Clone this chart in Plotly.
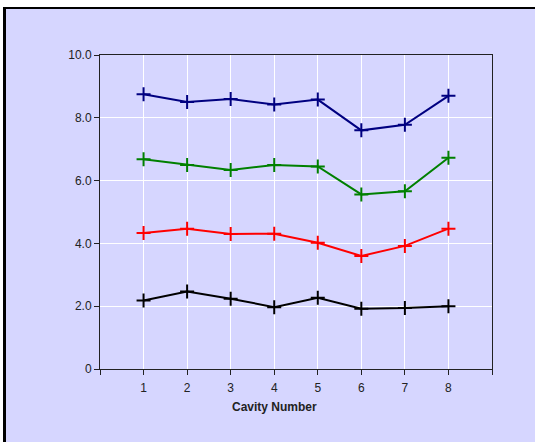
import plotly.graph_objects as go

cavity = [1, 2, 3, 4, 5, 6, 7, 8]
series_blue = [8.75, 8.5, 8.6, 8.42, 8.58, 7.6, 7.78, 8.7]
series_green = [6.68, 6.5, 6.34, 6.5, 6.45, 5.56, 5.66, 6.73]
series_red = [4.33, 4.47, 4.3, 4.31, 4.02, 3.6, 3.92, 4.47]
series_black = [2.18, 2.47, 2.24, 1.97, 2.27, 1.92, 1.94, 2.0]
colors = ["#000080", "#008000", "#ff0000", "#000000"]
y_tickvals = [0, 2, 4, 6, 8, 10]
y_ticktext = ["0", "2.0", "4.0", "6.0", "8.0", "10.0"]
x_tickvals = [0, 1, 2, 3, 4, 5, 6, 7, 8, 9]
x_ticktext = ["", "1", "2", "3", "4", "5", "6", "7", "8", ""]

fig = go.Figure()
for ys, c in zip([series_blue, series_green, series_red, series_black], colors):
    fig.add_trace(go.Scatter(
        x=cavity, y=ys, mode="lines+markers",
        line=dict(color=c, width=2),
        marker=dict(symbol="cross-thin", size=10, line=dict(color=c, width=2), color=c),
        showlegend=False, cliponaxis=False, hoverinfo="skip",
    ))

W, H = 535, 442
L, R, T, B = 100, 43, 55, 73
pw, ph = W - L - R, H - T - B

def px(x):
    return (x - L) / pw

def py(y):
    return (H - B - y) / ph

bg = "#d6d6ff"
# white strips outside the framed panel (top and left)
fig.add_shape(type="rect", xref="paper", yref="paper",
              x0=px(0), x1=px(W), y0=py(0), y1=py(7),
              fillcolor="white", line=dict(width=0), layer="below")
fig.add_shape(type="rect", xref="paper", yref="paper",
              x0=px(0), x1=px(3), y0=py(0), y1=py(H),
              fillcolor="white", line=dict(width=0), layer="below")
fig.add_shape(type="line", xref="paper", yref="paper",
              x0=px(4.5), x1=px(4.5), y0=py(7), y1=py(H),
              line=dict(color="black", width=3), layer="below")
fig.add_shape(type="line", xref="paper", yref="paper",
              x0=px(3), x1=px(W), y0=py(8), y1=py(8),
              line=dict(color="black", width=2), layer="below")

axis_font = dict(family="Liberation Sans, Arial", size=12, color="#222")
fig.update_xaxes(range=[0, 9], tickvals=x_tickvals, ticktext=x_ticktext,
                 showgrid=True, gridcolor="white", gridwidth=1,
                 showline=True, linecolor="#222", linewidth=1, mirror=True,
                 ticks="outside", ticklen=5, tickcolor="#222",
                 tickfont=axis_font, zeroline=False, ticklabelstandoff=3)
fig.update_yaxes(range=[0, 10], tickvals=y_tickvals, ticktext=y_ticktext,
                 showgrid=True, gridcolor="white", gridwidth=1,
                 showline=True, linecolor="#222", linewidth=1, mirror=True,
                 ticks="outside", ticklen=5, tickcolor="#222",
                 tickfont=axis_font, zeroline=False)

fig.add_annotation(text="<b>Cavity Number</b>", xref="paper", yref="paper",
                   x=px(274), y=py(407), xanchor="center", yanchor="middle",
                   showarrow=False,
                   font=dict(family="Liberation Sans, Arial", size=12, color="#222"))

fig.update_layout(width=W, height=H, margin=dict(l=L, r=R, t=T, b=B),
                  paper_bgcolor=bg, plot_bgcolor=bg)
fig.write_html("out.html", config={"displayModeBar": False},
               post_script=("document.documentElement.style.margin='0';"
                            "document.documentElement.style.overflow='hidden';"
                            "document.documentElement.style.background='" + bg + "';"
                            "document.body.style.margin='0';"
                            "document.body.style.padding='0';"
                            "document.body.style.overflow='hidden';"))
